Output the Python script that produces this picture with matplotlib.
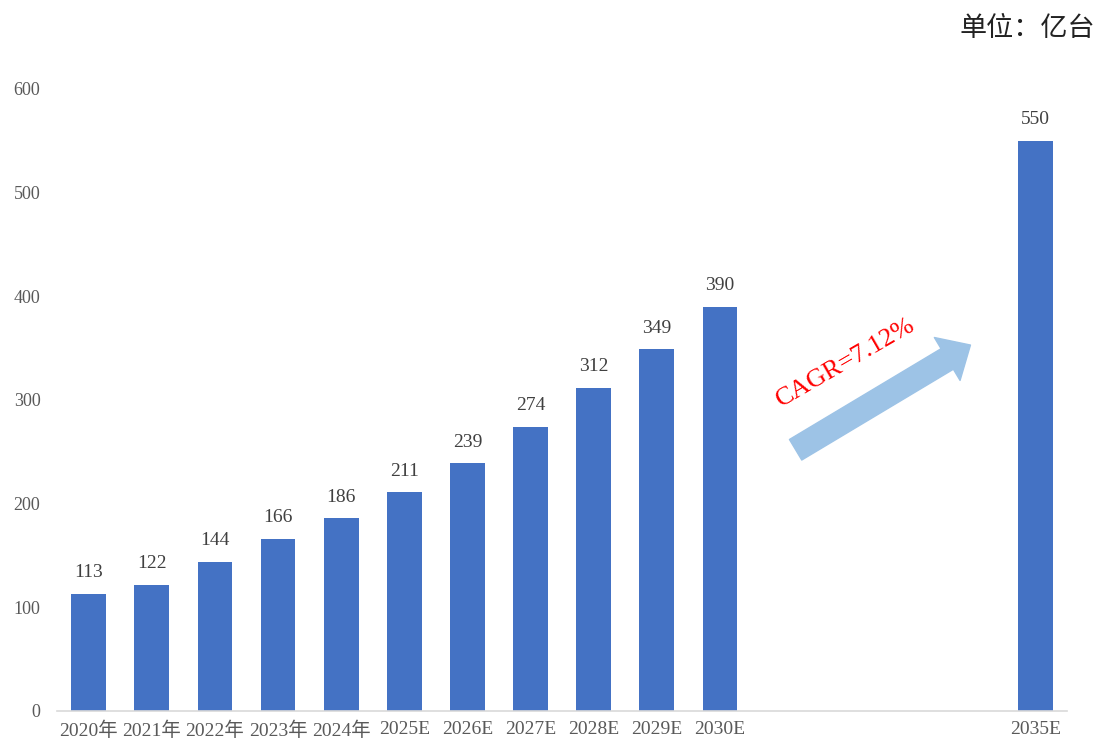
import matplotlib
matplotlib.use("Agg")
import matplotlib.pyplot as plt
import numpy as np

plt.rcParams["font.family"] = ["Liberation Serif", "Noto Sans CJK SC"]

# 2031-2034 have no data, kept as empty slots so 2035E sits further right
years = ["2020年", "2021年", "2022年", "2023年", "2024年", "2025E", "2026E",
         "2027E", "2028E", "2029E", "2030E", "", "", "", "", "2035E"]
shipments = [113, 122, 144, 166, 186, 211, 239, 274, 312, 349, 390,
             None, None, None, None, 550]
cagr_text = "CAGR=7.12%"
unit_text = "单位：亿台"

bar_color = "#4472C4"
arrow_color = "#9DC3E6"

fig = plt.figure(figsize=(10.98, 7.41), dpi=100)
ax = fig.add_axes([0.052, 0.0405, 0.9198, 0.8394])

pos = np.arange(len(years))
for x, v in zip(pos, shipments):
    if v is None:
        continue
    ax.bar(x, v, width=0.55, color=bar_color, zorder=2)
    ax.annotate(str(v), (x, v), xytext=(0, 9), textcoords="offset points",
                ha="center", va="bottom", fontsize=14, color="#404040")

ax.set_xlim(-0.5, 15.5)
ax.set_ylim(0, 600)
ax.set_xticks(pos)
ax.set_xticklabels(years, fontsize=14, color="#595959")
ax.set_yticks(np.arange(0, 601, 100))
ax.tick_params(axis="y", labelsize=13, labelcolor="#595959", length=0, pad=12)
ax.tick_params(axis="x", length=0, pad=7.5)
for s in ["left", "right", "top"]:
    ax.spines[s].set_visible(False)
ax.spines["bottom"].set_color("#D9D9D9")
ax.spines["bottom"].set_linewidth(1.2)

# growth arrow between 2030E and 2035E
ax.annotate("", xy=(13.97, 353), xytext=(11.2, 252),
            arrowprops=dict(arrowstyle="simple,head_length=1.3,head_width=2.4,tail_width=1.15",
                            color=arrow_color, shrinkA=0, shrinkB=0,
                            mutation_scale=15))
ax.text(12.0, 336, cagr_text, rotation=30, ha="center", va="center",
        fontsize=19, color="red", rotation_mode="anchor")

fig.text(0.997, 0.962, unit_text, ha="right", va="center", fontsize=19.5,
         color="#222222", family=["Noto Sans CJK SC"])

fig.savefig("out.png", dpi=100)
